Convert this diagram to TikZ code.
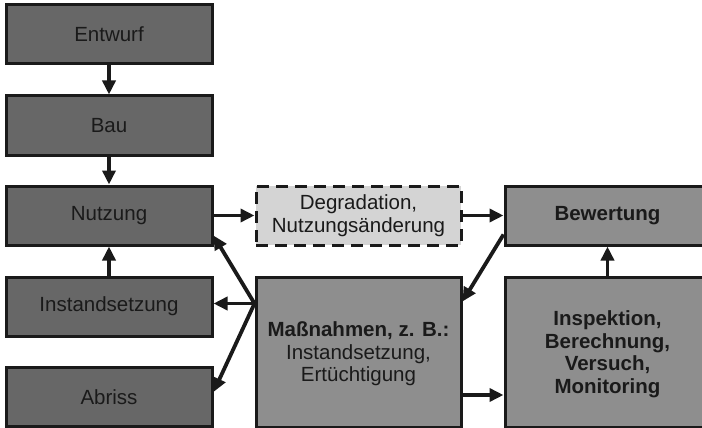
\documentclass[tikz,border=0pt]{standalone}
\usepackage{fontspec}
\setmainfont{Liberation Sans}
\usetikzlibrary{arrows.meta,calc}
\definecolor{darkbox}{HTML}{676767}
\definecolor{midbox}{HTML}{8E8E8E}
\definecolor{lightbox}{HTML}{D4D4D4}
\definecolor{ink}{HTML}{1A1A1A}
\tikzset{
  box/.style={draw=ink, line width=3pt, rectangle, inner sep=0pt, align=center,
    text=ink, font=\fontsize{20.5}{22.5}\selectfont},
  darkb/.style={box, fill=darkbox, minimum width=206pt, minimum height=59pt},
  midb/.style={box, fill=midbox},
  conn/.style={draw=ink, line width=3.8pt, -{Triangle[length=14pt,width=13pt]}},
}
\begin{document}
\begin{tikzpicture}[x=1pt,y=-1pt]
\useasboundingbox (0,0) rectangle (702,428);
\node[darkb] (entwurf) at (109,34) {Entwurf};
\node[darkb] (bau) at (109,125.5) {Bau};
\node[darkb] (nutzung) at (109,215.5) {Nutzung};
\node[darkb] (inst) at (109,306.5) {Instandsetzung};
\node[darkb] (abriss) at (109,397) {Abriss};
\node[box, fill=lightbox, dashed, dash pattern=on 12pt off 7pt, minimum width=205pt, minimum height=59pt] (degr) at (358.5,215.5) {Degradation,\\Nutzungsänderung};
\node[midb, minimum width=205pt, minimum height=59pt] (bew) at (607.5,215.5) {\bfseries Bewertung};
\node[midb, minimum width=205pt, minimum height=150pt, text depth=0pt] (mass) at (358.5,352) {\textbf{Maßnahmen, z. B.:}\\Instandsetzung,\\Ertüchtigung};
\node[midb, minimum width=205pt, minimum height=150pt, text depth=0pt, font=\bfseries\fontsize{20.5}{22.7}\selectfont] (insp) at (607.5,352) {Inspektion,\\Berechnung,\\Versuch,\\Monitoring};
\coordinate (mleft) at ($(mass.north west)+(0,28)$);
\coordinate (mtop) at ($(mass.north east)+(0,26)$);
\coordinate (bewlow) at ($(bew.west)+(0,19)$);
\coordinate (nutlow) at ($(nutzung.east)+(0,20)$);
\coordinate (abrhigh) at ($(abriss.east)+(0,-5)$);
\coordinate (mright) at ($(mass.east)+(0,43)$);
\draw[conn] (entwurf) -- (bau);
\draw[conn] (bau) -- (nutzung);
\draw[conn] (inst) -- (nutzung);
\draw[conn] (nutzung) -- (degr);
\draw[conn] (degr) -- (bew);
\draw[conn] (bewlow) -- (mtop);
\draw[conn] (insp) -- (bew);
\draw[conn] (mright) -- (mright -| insp.west);
\draw[conn] (mleft) -- (nutlow);
\draw[conn] (mleft) -- (mleft -| inst.east);
\draw[conn] (mleft) -- (abrhigh);
\end{tikzpicture}
\end{document}
